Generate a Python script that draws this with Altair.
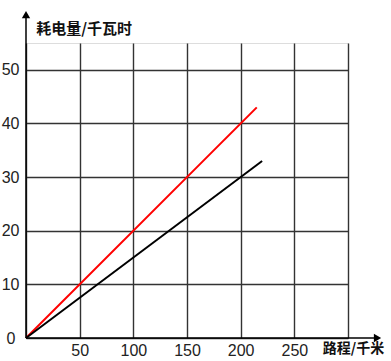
import altair as alt
import pandas as pd

# data
series = ["red", "black"]
x_end = [215, 220]
y_end = [43, 33]
x_ticks = [0, 25, 50, 75, 100, 125, 150, 175, 200, 225, 250, 275, 300]
y_ticks = [0, 5, 10, 15, 20, 25, 30, 35, 40, 45, 50, 55]
y_title = "耗电量/千瓦时"
x_title = "路程/千米"

rows = []
for s, xe, ye in zip(series, x_end, y_end):
    rows.append({"s": s, "x": 0, "y": 0})
    rows.append({"s": s, "x": xe, "y": ye})
df = pd.DataFrame(rows)

xs = alt.Scale(domain=[0, 300], nice=False, zero=False)
ys = alt.Scale(domain=[0, 55], nice=False, zero=False)

xaxis = alt.Axis(values=x_ticks, grid=True, gridColor="#333", gridWidth=1.4, gridOpacity=1,
                 domain=False, ticks=False, title=None,
                 labelExpr="(datum.value >= 50 && datum.value <= 250 && datum.value % 50 == 0) ? datum.label : ''",
                 labelFont="Liberation Sans", labelFontSize=16, labelColor="#222", labelPadding=4,
                 labelFlush=False)
yaxis = alt.Axis(values=y_ticks, grid=True, gridColor="#333", gridWidth=1.4, gridOpacity=1,
                 domain=False, ticks=False, title=None,
                 labelExpr="(datum.value % 10 == 0 && datum.value <= 50) ? datum.label : ''",
                 labelFont="Liberation Sans", labelFontSize=16, labelColor="#222",
                 labelPadding={"condition": {"test": "datum.value == 0", "value": 11}, "value": 7},
                 labelFlush=False)

base = alt.Chart(df)

lines = base.mark_line(strokeWidth=2, clip=False).encode(
    x=alt.X("x:Q", scale=xs, axis=xaxis),
    y=alt.Y("y:Q", scale=ys, axis=yaxis),
    color=alt.Color("s:N", scale=alt.Scale(domain=series, range=["#ff0000", "#000000"]), legend=None),
    detail="s:N",
)

# axis arrows
yline = alt.Chart(pd.DataFrame({"x": [0], "y": [0], "y2": [60.3]})).mark_rule(
    color="#000", strokeWidth=1.5, clip=False).encode(
    x=alt.X("x:Q", scale=xs), y=alt.Y("y:Q", scale=ys), y2="y2:Q")
xline = alt.Chart(pd.DataFrame({"x": [0], "x2": [329], "y": [0]})).mark_rule(
    color="#000", strokeWidth=1.5, clip=False).encode(
    x=alt.X("x:Q", scale=xs), x2="x2:Q", y=alt.Y("y:Q", scale=ys))
yarrow = alt.Chart(pd.DataFrame({"x": [0], "y": [60.3]})).mark_point(
    shape="triangle-up", filled=True, color="#000", size=70, opacity=1, clip=False).encode(
    x=alt.X("x:Q", scale=xs), y=alt.Y("y:Q", scale=ys))
xarrow = alt.Chart(pd.DataFrame({"x": [327.5], "y": [0]})).mark_point(
    shape="triangle-right", filled=True, color="#000", size=70, opacity=1, clip=False).encode(
    x=alt.X("x:Q", scale=xs), y=alt.Y("y:Q", scale=ys))

ytitle = alt.Chart(pd.DataFrame({"x": [9.5], "y": [57.6], "t": [y_title]})).mark_text(
    align="left", baseline="middle", font="Noto Sans CJK SC", fontSize=15, fontWeight="bold",
    color="#111", clip=False).encode(
    x=alt.X("x:Q", scale=xs), y=alt.Y("y:Q", scale=ys), text="t:N")
xtitle = alt.Chart(pd.DataFrame({"x": [276.5], "y": [-2.1], "t": [x_title]})).mark_text(
    align="left", baseline="middle", font="Noto Sans CJK SC", fontSize=14, fontWeight="bold",
    color="#111", clip=False).encode(
    x=alt.X("x:Q", scale=xs), y=alt.Y("y:Q", scale=ys), text="t:N")

chart = alt.layer(lines, yline, xline, yarrow, xarrow, ytitle, xtitle).properties(
    width=322, height=295,
    autosize=alt.AutoSizeParams(type="none"),
    padding={"left": 26, "top": 43, "right": 43, "bottom": 23},
).configure_view(stroke=None).configure(background="white")

chart.save("out.html", embed_options={"renderer": "svg", "actions": False})
